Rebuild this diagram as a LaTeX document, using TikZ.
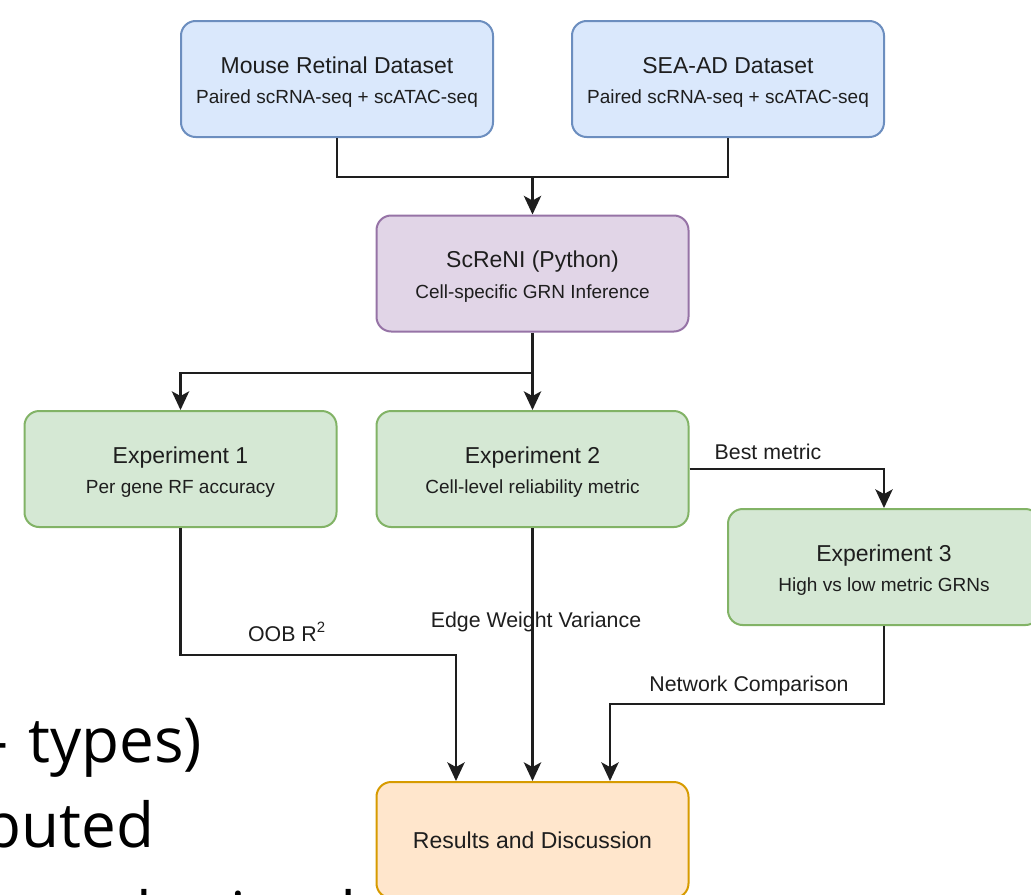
\documentclass[tikz,border=0pt]{standalone}
\usepackage{fontspec}
\setmainfont{Liberation Sans}
\newfontfamily\slidefont{Open Sans}
\usetikzlibrary{arrows.meta}

\tikzset{every picture/.style={line width=1.5pt}}
\tikzset{
  box/.style={draw, rounded corners=11pt, minimum width=234pt, minimum height=87pt,
    align=center, line width=1.5pt, text={rgb,255:red,30;green,30;blue,30},
    font=\fontsize{14.25}{23}\selectfont},
  bluebox/.style={box, draw={rgb,255:red,108;green,142;blue,191}, fill={rgb,255:red,218;green,232;blue,252}},
  purplebox/.style={box, draw={rgb,255:red,150;green,115;blue,166}, fill={rgb,255:red,225;green,213;blue,231}},
  greenbox/.style={box, draw={rgb,255:red,130;green,179;blue,102}, fill={rgb,255:red,213;green,232;blue,212}},
  orangebox/.style={box, draw={rgb,255:red,215;green,155;blue,0}, fill={rgb,255:red,255;green,230;blue,204}},
  link/.style={draw={rgb,255:red,30;green,30;blue,30}, line width=1.6pt},
  arr/.style={link, -{Stealth[length=14pt,width=13pt,inset=3.5pt]}},
  lbl/.style={inner sep=0pt, text={rgb,255:red,30;green,30;blue,30}, font=\fontsize{16}{18}\selectfont},
  slide/.style={inner sep=0pt, font=\slidefont\fontsize{46.5}{56}\selectfont},
}
\newcommand{\boxtitle}[1]{{\fontsize{17.25}{23}\selectfont\rule{0pt}{17pt}#1}}

\begin{document}
\begin{tikzpicture}[x=0.75pt,y=0.75pt,yscale=-1,xscale=1]
\useasboundingbox (0,0) rectangle (1031,894);
\fill[white] (0,0) rectangle (1031,894);

% Slide text behind
\node[slide, anchor=base east] (sl1) at (6,345) {l};
\node[slide, anchor=base east] (sl2) at (9,762) {-};
\node[slide, anchor=base east] (sl3) at (203,762) {types)};
\node[slide, anchor=base east] (sl4) at (155,847) {buted};
\node[slide, anchor=base east] (sl5) at (358,936) {t obtained};

%Rounded Rect
\node[bluebox] (mouse) at (337,79) {\boxtitle{Mouse Retinal Dataset}\\Paired scRNA-seq + scATAC-seq};
%Rounded Rect
\node[bluebox] (seaad) at (728,79) {\boxtitle{SEA-AD Dataset}\\Paired scRNA-seq + scATAC-seq};
%Rounded Rect
\node[purplebox] (screni) at (532.5,273.5) {\boxtitle{ScReNI (Python)}\\Cell-specific GRN Inference};
%Rounded Rect
\node[greenbox] (exp1) at (180.5,469) {\boxtitle{Experiment 1}\\Per gene RF accuracy};
%Rounded Rect
\node[greenbox] (exp2) at (532.5,469) {\boxtitle{Experiment 2}\\Cell-level reliability metric};
%Rounded Rect
\node[greenbox] (exp3) at (884,567) {\boxtitle{Experiment 3}\\High vs low metric GRNs};
%Rounded Rect
\node[orangebox, font=\fontsize{17.25}{23}\selectfont] (results) at (532.5,840) {Results and Discussion};

% Connectors
\coordinate (merge) at (532.5,177);
\coordinate (split) at (532.5,373);
\coordinate (oob) at (456,655);
\coordinate (netc) at (610,704);

\draw[link] (mouse.south) |- (merge);
\draw[link] (seaad.south) |- (merge);
\draw[arr] (merge) -- (screni.north);

\draw[link] (screni.south) -- (split);
\draw[arr] (split) -| (exp1.north);
\draw[arr] (split) -- (exp2.north);

\draw[arr] (exp2.east) -| (exp3.north);
\draw[arr] (exp1.south) |- (oob) -- (oob |- results.north);
\draw[arr] (exp2.south) -- (results.north);
\draw[arr] (exp3.south) |- (netc) -- (netc |- results.north);

% Text Node
\node[lbl] (best) at (768,452) {Best metric};
% Text Node
\node[lbl] (oobr) at (287,632) {OOB R\textsuperscript{2}};
% Text Node
\node[lbl] (ewv) at (536,622) {Edge Weight Variance};
% Text Node
\node[lbl] (ncmp) at (749,686) {Network Comparison};

\end{tikzpicture}
\end{document}
